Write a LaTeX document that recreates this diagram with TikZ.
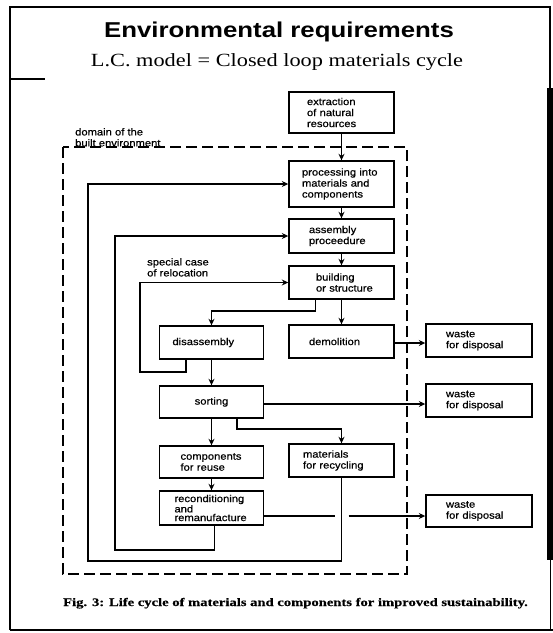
\documentclass[tikz,border=0pt]{standalone}
\usepackage{fontspec}
\usetikzlibrary{arrows.meta}
\newfontfamily\boxfont[FakeStretch=1.12,FakeBold=0.6]{Liberation Sans}
\newfontfamily\titlefont[FakeStretch=1.2]{Liberation Sans}
\newfontfamily\subfont[FakeStretch=1.2]{Liberation Serif}
\newfontfamily\capfont[FakeStretch=1.27,FakeBold=0.4]{Liberation Serif}
\tikzset{
  box/.style={draw, line width=1.4pt, inner xsep=0pt, inner ysep=0pt, align=left,
    font={\boxfont\fontsize{10}{11}\selectfont}},
  lbl/.style={inner sep=0pt, align=left, font={\boxfont\fontsize{10}{11}\selectfont}},
  arr/.style={line width=1.8pt, -{Stealth[length=6.5pt,width=6pt]}},
  ln/.style={line width=1.8pt},
  domainline/.style={line width=1.3pt, dash pattern=on 11pt off 5pt},
}
\begin{document}
\begin{tikzpicture}[x=1pt,y=-1pt]
\useasboundingbox (0,0) rectangle (553,633);
% outer frame
\draw[line width=1.4pt] (10,630) -- (10,7) -- (550,7) -- (550,88);
\draw[line width=1.8pt] (10,79) -- (45,79);
\fill (547,88) rectangle (553,560);
\draw[line width=1pt] (550,560) -- (550,630);
\draw[line width=2pt] (10,630) -- (553,630);
% titles
\node[anchor=base, inner sep=0pt, font={\titlefont\bfseries\fontsize{21.5}{25}\selectfont}] (title) at (279,37) {Environmental requirements};
\node[anchor=base, inner sep=0pt, font={\subfont\fontsize{18.6}{22}\selectfont}] (subtitle) at (277,66) {L.C. model = Closed loop materials cycle};
% domain
\draw[domainline] (63,147) rectangle (407,574);
\node[lbl, anchor=north west] (domain) at (75,128) {domain of the\\built environment};
\node[lbl, anchor=north west] (reloc) at (147,258) {special case\\of relocation};
% right column
\node[box, minimum width=105pt, minimum height=41pt, text width=69pt] (extract) at (341.5,112.5) {extraction\\\mbox{of natural}\\resources};
\node[box, minimum width=105pt, minimum height=46pt, text width=79pt] (process) at (341.5,184) {\mbox{processing into}\\\mbox{materials and}\\components};
\node[box, minimum width=105pt, minimum height=34pt, text width=65pt] (assembly) at (341.5,236) {assembly\\proceedure};
\node[box, minimum width=105pt, minimum height=33pt, text width=51pt] (building) at (341.5,282.5) {building\\\mbox{or structure}};
\node[box, minimum width=105pt, minimum height=33pt, text width=65pt] (demol) at (341.5,341.5) {demolition};
\node[box, minimum width=105pt, minimum height=33pt, text width=77pt] (materials) at (341.5,460.5) {materials\\\mbox{for recycling}};
% left column
\node[box, minimum width=104pt, minimum height=33pt, text width=78pt] (disasm) at (211.5,342.5) {disassembly};
\node[box, minimum width=104pt, minimum height=32pt, text width=104pt, align=center] (sorting) at (211.5,402) {sorting};
\node[box, minimum width=104pt, minimum height=32pt, text width=62pt] (comp) at (211.5,462) {components\\\mbox{for reuse}};
\node[box, minimum width=104pt, minimum height=34pt, text width=74pt, font={\boxfont\fontsize{10}{8.7}\selectfont}] (recond) at (211.5,508) {reconditioning\\and\\remanufacture};
% waste boxes
\node[box, minimum width=106pt, minimum height=33pt, text width=66pt] (waste1) at (479,340.5) {waste\\\mbox{for disposal}};
\node[box, minimum width=106pt, minimum height=33pt, text width=66pt] (waste2) at (479,400.5) {waste\\\mbox{for disposal}};
\node[box, minimum width=106pt, minimum height=32pt, text width=66pt] (waste3) at (479,511) {waste\\\mbox{for disposal}};
% loop corners
\coordinate (loopA) at (88,561);
\coordinate (loopB) at (115,550);
\coordinate (loopC) at (140,372);
% main flow
\draw[arr] (extract) -- (process);
\draw[arr] (process) -- (assembly);
\draw[arr] (assembly) -- (building);
\draw[arr] (building) -- (demol);
\draw[arr] ([xshift=-26pt]building.south) -- ++(0,11) -| (disasm.north);
\draw[arr] (disasm) -- (sorting);
\draw[arr] (sorting) -- (comp);
\draw[arr] (comp) -- (recond);
\draw[arr] ([xshift=25.5pt]sorting.south) -- ++(0,10) -| (materials.north);
% to waste
\draw[arr] ([yshift=-1.5pt]demol.east) -- ([yshift=-1.5pt]demol.east -| waste1.west);
\draw[arr] ([yshift=-2pt]sorting.east) -- ([yshift=-2pt]sorting.east -| waste2.west);
\coordinate (rw) at ([yshift=-8pt]recond.east);
\draw[ln] (rw) -- ([xshift=-7pt]rw -| materials.south);
\draw[arr] ([xshift=7pt]rw -| materials.south) -- (rw -| waste3.west);
% feedback loops
\draw[arr] (materials.south) |- (loopA) |- (process.west);
\draw[arr] ([xshift=3pt]recond.south) |- (loopB) |- (assembly.west);
\draw[arr] ([xshift=-25.5pt]disasm.south) |- (loopC) |- (building.west);
% caption
\node[anchor=base west, inner sep=0pt, font={\capfont\bfseries\fontsize{11.5}{13}\selectfont}] (caption) at (63,606) {Fig. 3: Life cycle of materials and components for improved sustainability.};
\end{tikzpicture}
\end{document}
